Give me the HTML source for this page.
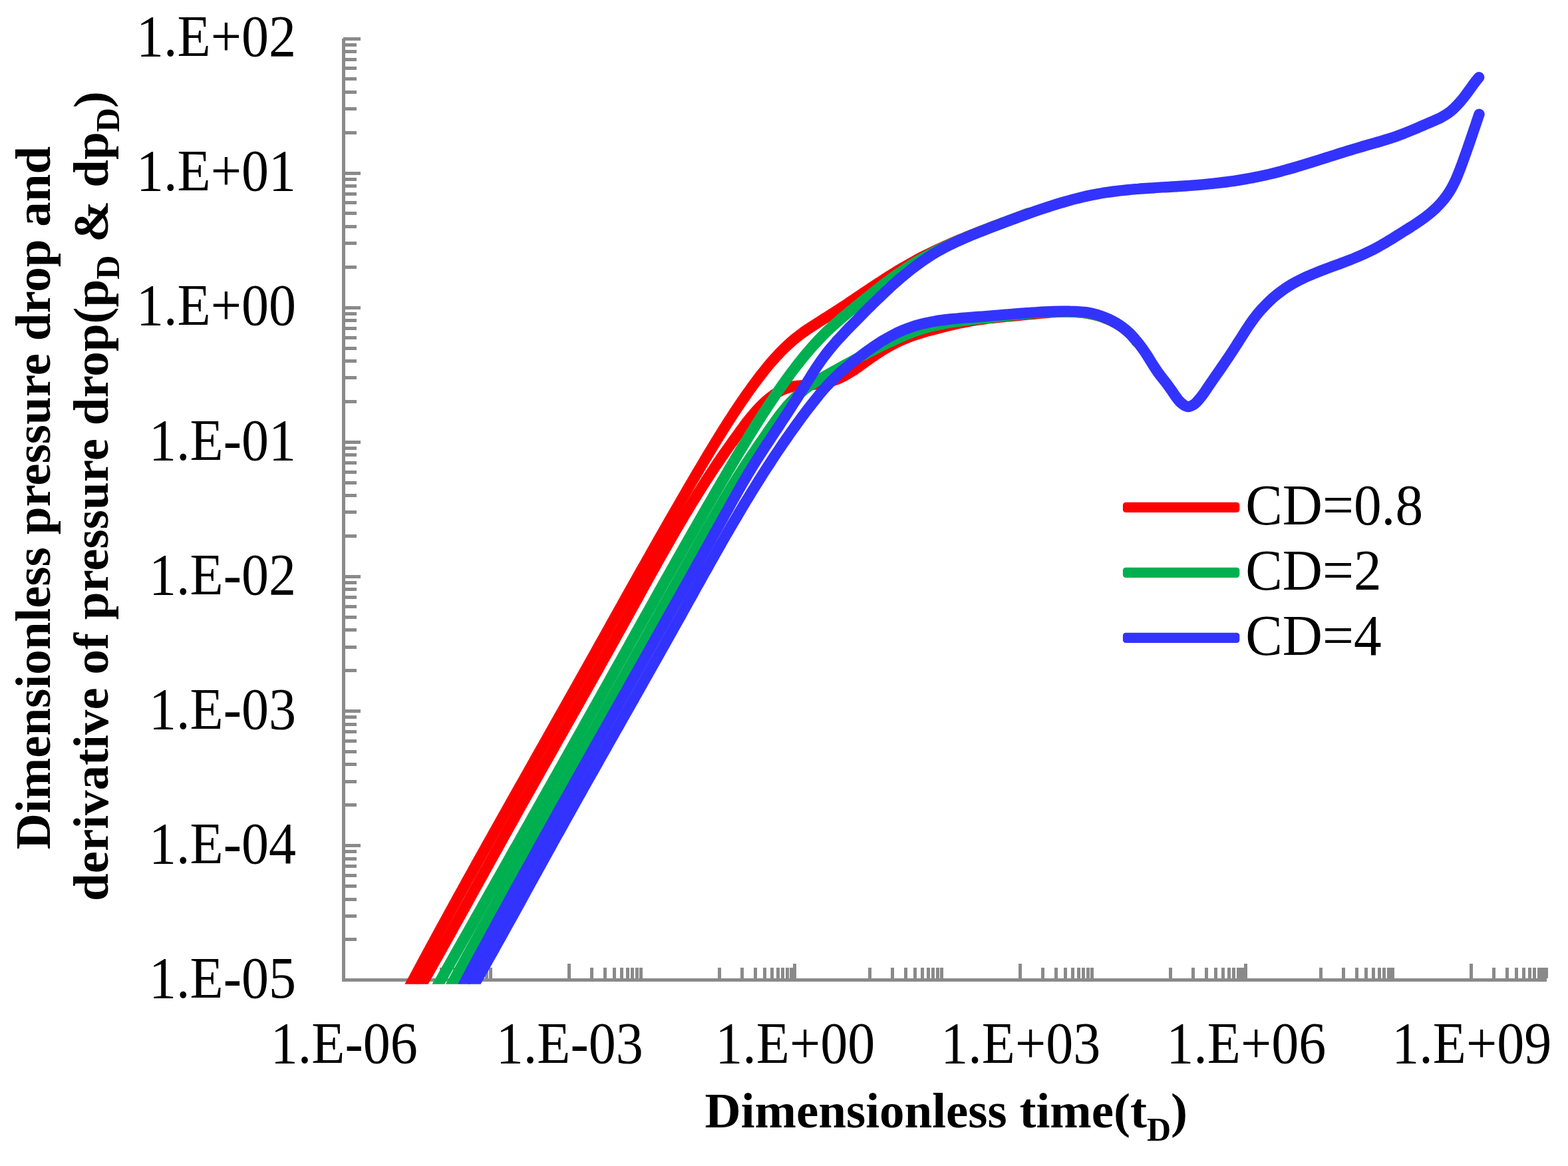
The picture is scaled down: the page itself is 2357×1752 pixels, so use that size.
<!DOCTYPE html>
<html lang="en">
<head>
<meta charset="utf-8">
<title>Dimensionless pressure drop and derivative of pressure drop</title>
<style>
html, body { margin: 0; padding: 0; background: #ffffff; }
body { width: 2357px; height: 1752px; overflow: hidden; }
svg { display: block; }
text { font-family: "Liberation Serif", "Times New Roman", Times, serif; fill: #000; }
.tick { font-size: 83.3px; }
.leg { font-size: 83.3px; }
.ttl { font-size: 75px; font-weight: bold; }
.sub { font-size: 50px; }
.curves path { fill: none; stroke-width: 16.4; stroke-linejoin: round; stroke-linecap: round; }
.axis { shape-rendering: crispEdges; }
.axis rect { fill: #8a8a8a; }
</style>
</head>
<body>
<svg width="2357" height="1752" viewBox="0 0 2357 1752">
<defs><clipPath id="plot"><rect x="516.5" y="0" width="2357" height="1478.7"/></clipPath></defs>
<rect width="2357" height="1752" fill="#ffffff"/>
<g class="axis">
<rect x="514" y="58" width="5" height="1417"/>
<rect x="514" y="1470" width="1811" height="5"/>
<rect x="516" y="1409" width="20" height="5"/>
<rect x="516" y="1374" width="20" height="5"/>
<rect x="516" y="1349" width="20" height="5"/>
<rect x="516" y="1329" width="20" height="5"/>
<rect x="516" y="1313" width="20" height="5"/>
<rect x="516" y="1299" width="20" height="5"/>
<rect x="516" y="1288" width="20" height="5"/>
<rect x="516" y="1277" width="20" height="5"/>
<rect x="516" y="1268" width="26" height="5"/>
<rect x="516" y="1207" width="20" height="5"/>
<rect x="516" y="1172" width="20" height="5"/>
<rect x="516" y="1146" width="20" height="5"/>
<rect x="516" y="1127" width="20" height="5"/>
<rect x="516" y="1111" width="20" height="5"/>
<rect x="516" y="1097" width="20" height="5"/>
<rect x="516" y="1086" width="20" height="5"/>
<rect x="516" y="1075" width="20" height="5"/>
<rect x="516" y="1066" width="26" height="5"/>
<rect x="516" y="1005" width="20" height="5"/>
<rect x="516" y="970" width="20" height="5"/>
<rect x="516" y="944" width="20" height="5"/>
<rect x="516" y="925" width="20" height="5"/>
<rect x="516" y="909" width="20" height="5"/>
<rect x="516" y="895" width="20" height="5"/>
<rect x="516" y="883" width="20" height="5"/>
<rect x="516" y="873" width="20" height="5"/>
<rect x="516" y="864" width="26" height="5"/>
<rect x="516" y="803" width="20" height="5"/>
<rect x="516" y="767" width="20" height="5"/>
<rect x="516" y="742" width="20" height="5"/>
<rect x="516" y="723" width="20" height="5"/>
<rect x="516" y="707" width="20" height="5"/>
<rect x="516" y="693" width="20" height="5"/>
<rect x="516" y="681" width="20" height="5"/>
<rect x="516" y="671" width="20" height="5"/>
<rect x="516" y="662" width="26" height="5"/>
<rect x="516" y="601" width="20" height="5"/>
<rect x="516" y="565" width="20" height="5"/>
<rect x="516" y="540" width="20" height="5"/>
<rect x="516" y="521" width="20" height="5"/>
<rect x="516" y="505" width="20" height="5"/>
<rect x="516" y="491" width="20" height="5"/>
<rect x="516" y="479" width="20" height="5"/>
<rect x="516" y="469" width="20" height="5"/>
<rect x="516" y="460" width="26" height="5"/>
<rect x="516" y="399" width="20" height="5"/>
<rect x="516" y="363" width="20" height="5"/>
<rect x="516" y="338" width="20" height="5"/>
<rect x="516" y="318" width="20" height="5"/>
<rect x="516" y="302" width="20" height="5"/>
<rect x="516" y="289" width="20" height="5"/>
<rect x="516" y="277" width="20" height="5"/>
<rect x="516" y="267" width="20" height="5"/>
<rect x="516" y="258" width="26" height="5"/>
<rect x="516" y="197" width="20" height="5"/>
<rect x="516" y="161" width="20" height="5"/>
<rect x="516" y="136" width="20" height="5"/>
<rect x="516" y="116" width="20" height="5"/>
<rect x="516" y="100" width="20" height="5"/>
<rect x="516" y="87" width="20" height="5"/>
<rect x="516" y="75" width="20" height="5"/>
<rect x="516" y="65" width="20" height="5"/>
<rect x="516" y="56" width="26" height="5"/>
<rect x="853" y="1448" width="5" height="22"/>
<rect x="1192" y="1448" width="5" height="22"/>
<rect x="1531" y="1448" width="5" height="22"/>
<rect x="1870" y="1448" width="5" height="22"/>
<rect x="2209" y="1448" width="5" height="22"/>
<rect x="627" y="1454" width="5" height="16"/>
<rect x="661" y="1454" width="5" height="16"/>
<rect x="681" y="1454" width="5" height="16"/>
<rect x="695" y="1454" width="5" height="16"/>
<rect x="706" y="1454" width="5" height="16"/>
<rect x="715" y="1454" width="5" height="16"/>
<rect x="722" y="1454" width="5" height="16"/>
<rect x="729" y="1454" width="5" height="16"/>
<rect x="735" y="1454" width="5" height="16"/>
<rect x="887" y="1454" width="5" height="16"/>
<rect x="907" y="1454" width="5" height="16"/>
<rect x="921" y="1454" width="5" height="16"/>
<rect x="932" y="1454" width="5" height="16"/>
<rect x="941" y="1454" width="5" height="16"/>
<rect x="948" y="1454" width="5" height="16"/>
<rect x="955" y="1454" width="5" height="16"/>
<rect x="961" y="1454" width="5" height="16"/>
<rect x="1079" y="1454" width="5" height="16"/>
<rect x="1113" y="1454" width="5" height="16"/>
<rect x="1133" y="1454" width="5" height="16"/>
<rect x="1147" y="1454" width="5" height="16"/>
<rect x="1158" y="1454" width="5" height="16"/>
<rect x="1167" y="1454" width="5" height="16"/>
<rect x="1174" y="1454" width="5" height="16"/>
<rect x="1181" y="1454" width="5" height="16"/>
<rect x="1187" y="1454" width="5" height="16"/>
<rect x="1305" y="1454" width="5" height="16"/>
<rect x="1339" y="1454" width="5" height="16"/>
<rect x="1359" y="1454" width="5" height="16"/>
<rect x="1373" y="1454" width="5" height="16"/>
<rect x="1384" y="1454" width="5" height="16"/>
<rect x="1393" y="1454" width="5" height="16"/>
<rect x="1400" y="1454" width="5" height="16"/>
<rect x="1407" y="1454" width="5" height="16"/>
<rect x="1413" y="1454" width="5" height="16"/>
<rect x="1565" y="1454" width="5" height="16"/>
<rect x="1585" y="1454" width="5" height="16"/>
<rect x="1599" y="1454" width="5" height="16"/>
<rect x="1610" y="1454" width="5" height="16"/>
<rect x="1619" y="1454" width="5" height="16"/>
<rect x="1626" y="1454" width="5" height="16"/>
<rect x="1633" y="1454" width="5" height="16"/>
<rect x="1639" y="1454" width="5" height="16"/>
<rect x="1757" y="1454" width="5" height="16"/>
<rect x="1791" y="1454" width="5" height="16"/>
<rect x="1811" y="1454" width="5" height="16"/>
<rect x="1825" y="1454" width="5" height="16"/>
<rect x="1836" y="1454" width="5" height="16"/>
<rect x="1845" y="1454" width="5" height="16"/>
<rect x="1852" y="1454" width="5" height="16"/>
<rect x="1859" y="1454" width="5" height="16"/>
<rect x="1865" y="1454" width="5" height="16"/>
<rect x="1983" y="1454" width="5" height="16"/>
<rect x="2017" y="1454" width="5" height="16"/>
<rect x="2037" y="1454" width="5" height="16"/>
<rect x="2051" y="1454" width="5" height="16"/>
<rect x="2062" y="1454" width="5" height="16"/>
<rect x="2071" y="1454" width="5" height="16"/>
<rect x="2078" y="1454" width="5" height="16"/>
<rect x="2085" y="1454" width="5" height="16"/>
<rect x="2091" y="1454" width="5" height="16"/>
<rect x="2243" y="1454" width="5" height="16"/>
<rect x="2263" y="1454" width="5" height="16"/>
<rect x="2277" y="1454" width="5" height="16"/>
<rect x="2288" y="1454" width="5" height="16"/>
<rect x="2297" y="1454" width="5" height="16"/>
<rect x="2304" y="1454" width="5" height="16"/>
<rect x="2311" y="1454" width="5" height="16"/>
<rect x="2317" y="1454" width="5" height="16"/>
<rect x="2322" y="1454" width="5" height="16"/>
<rect x="1187" y="1454" width="10" height="16"/>
<rect x="1859" y="1454" width="16" height="16"/>
<rect x="2085" y="1454" width="11" height="16"/>
<rect x="2311" y="1454" width="16" height="16"/>
</g>
<g class="curves" clip-path="url(#plot)">
<path d="M606.4,1500.0C608.3,1496.5 610.2,1492.9 612.1,1489.4C613.9,1485.8 615.8,1482.3 617.7,1478.7C619.6,1475.2 621.5,1471.6 623.4,1468.1C625.3,1464.5 627.2,1461.0 629.1,1457.4C631.0,1453.9 632.9,1450.4 634.8,1446.8C636.7,1443.3 638.6,1439.8 640.5,1436.2C642.4,1432.7 644.3,1429.1 646.2,1425.6C648.1,1422.1 650.0,1418.5 652.0,1415.0C653.9,1411.5 655.8,1408.0 657.7,1404.4C659.6,1400.9 661.5,1397.4 663.5,1393.8C665.4,1390.3 667.3,1386.8 669.2,1383.3C671.2,1379.7 673.1,1376.2 675.0,1372.7C677.0,1369.2 678.9,1365.6 680.8,1362.1C682.8,1358.6 684.7,1355.1 686.6,1351.6C688.6,1348.0 690.5,1344.5 692.5,1341.0C694.4,1337.5 696.3,1334.0 698.3,1330.5C700.2,1326.9 702.2,1323.4 704.1,1319.9C706.1,1316.4 708.0,1312.9 710.0,1309.4C711.9,1305.9 713.9,1302.4 715.8,1298.8C717.8,1295.3 719.7,1291.8 721.7,1288.3C723.6,1284.8 725.6,1281.3 727.6,1277.8C729.5,1274.3 731.5,1270.8 733.4,1267.3C735.4,1263.8 737.4,1260.3 739.3,1256.8C741.3,1253.2 743.2,1249.7 745.2,1246.2C747.2,1242.7 749.1,1239.2 751.1,1235.7C753.1,1232.2 755.0,1228.7 757.0,1225.2C759.0,1221.7 760.9,1218.2 762.9,1214.7C764.9,1211.2 766.8,1207.7 768.8,1204.2C770.8,1200.7 772.7,1197.2 774.7,1193.7C776.7,1190.2 778.7,1186.7 780.6,1183.2C782.6,1179.7 784.6,1176.2 786.6,1172.7C788.5,1169.2 790.5,1165.7 792.5,1162.2C794.4,1158.7 796.4,1155.2 798.4,1151.7C800.4,1148.2 802.3,1144.7 804.3,1141.2C806.3,1137.7 808.3,1134.2 810.2,1130.7C812.2,1127.2 814.2,1123.7 816.2,1120.2C818.1,1116.7 820.1,1113.2 822.1,1109.7C824.1,1106.2 826.0,1102.7 828.0,1099.2C830.0,1095.7 831.9,1092.2 833.9,1088.7C835.9,1085.2 837.9,1081.7 839.8,1078.2C841.8,1074.7 843.8,1071.2 845.8,1067.7C847.7,1064.2 849.7,1060.7 851.7,1057.2C853.6,1053.7 855.6,1050.2 857.6,1046.7C859.6,1043.2 861.5,1039.7 863.5,1036.2C865.5,1032.7 867.4,1029.2 869.4,1025.7C871.4,1022.2 873.3,1018.7 875.3,1015.2C877.3,1011.7 879.2,1008.2 881.2,1004.7C883.2,1001.2 885.1,997.7 887.1,994.2C889.1,990.7 891.0,987.2 893.0,983.7C895.0,980.2 896.9,976.7 898.9,973.1C900.8,969.6 902.8,966.1 904.8,962.6C906.7,959.1 908.7,955.6 910.6,952.1C912.6,948.6 914.6,945.1 916.5,941.6C918.5,938.1 920.4,934.6 922.4,931.1C924.4,927.6 926.3,924.1 928.3,920.5C930.2,917.0 932.2,913.5 934.2,910.0C936.1,906.5 938.1,903.0 940.0,899.5C942.0,896.0 944.0,892.5 945.9,889.0C947.9,885.5 949.9,882.0 951.8,878.5C953.8,875.0 955.8,871.5 957.7,868.0C959.7,864.5 961.7,861.0 963.6,857.5C965.6,854.0 967.6,850.5 969.6,847.0C971.5,843.5 973.5,840.0 975.5,836.5C977.5,833.0 979.4,829.5 981.4,826.0C983.4,822.5 985.4,819.0 987.4,815.5C989.3,812.0 991.3,808.5 993.3,805.0C995.3,801.5 997.3,798.1 999.3,794.6C1001.3,791.1 1003.3,787.6 1005.3,784.1C1007.3,780.6 1009.3,777.1 1011.3,773.7C1013.3,770.2 1015.3,766.7 1017.3,763.2C1019.3,759.7 1021.3,756.3 1023.3,752.8C1025.3,749.3 1027.4,745.8 1029.4,742.4C1031.4,738.9 1033.4,735.4 1035.4,731.9C1037.5,728.5 1039.5,725.0 1041.5,721.5C1043.6,718.1 1045.6,714.6 1047.6,711.1C1049.7,707.7 1051.7,704.2 1053.8,700.8C1055.8,697.3 1057.9,693.9 1059.9,690.4C1062.0,687.0 1064.0,683.5 1066.1,680.1C1068.2,676.6 1070.3,673.2 1072.3,669.7C1074.4,666.3 1076.5,662.9 1078.6,659.5C1080.7,656.0 1082.8,652.6 1085.0,649.2C1087.1,645.8 1089.2,642.4 1091.4,639.0C1093.5,635.6 1095.7,632.2 1097.9,628.9C1100.1,625.5 1102.2,622.1 1104.5,618.8C1106.7,615.4 1108.9,612.1 1111.2,608.7C1113.4,605.4 1115.7,602.1 1118.0,598.8C1120.2,595.5 1122.5,592.2 1124.9,588.9C1127.2,585.7 1129.5,582.4 1131.9,579.1C1134.3,575.9 1136.7,572.7 1139.1,569.5C1141.5,566.3 1144.0,563.1 1146.5,559.9C1148.9,556.8 1151.5,553.6 1154.0,550.5C1156.6,547.5 1159.2,544.4 1161.8,541.4C1164.5,538.4 1167.2,535.4 1170.0,532.5C1172.7,529.5 1175.5,526.7 1178.4,523.9C1181.3,521.0 1184.2,518.3 1187.2,515.6C1190.2,512.9 1193.2,510.3 1196.4,507.8C1199.5,505.3 1202.7,502.9 1205.9,500.5C1209.2,498.1 1212.5,495.9 1215.8,493.6C1219.2,491.4 1222.6,489.2 1225.9,487.1C1229.3,484.9 1232.7,482.8 1236.1,480.6C1239.5,478.5 1243.0,476.4 1246.4,474.2C1249.7,472.1 1253.1,469.9 1256.5,467.7C1259.9,465.5 1263.2,463.3 1266.6,461.1C1269.9,458.9 1273.3,456.7 1276.6,454.4C1280.0,452.2 1283.3,450.0 1286.6,447.7C1290.0,445.5 1293.3,443.3 1296.6,441.0C1300.0,438.8 1303.3,436.6 1306.7,434.3C1310.0,432.1 1313.3,429.9 1316.7,427.7C1320.1,425.5 1323.4,423.3 1326.8,421.1C1330.2,418.9 1333.6,416.7 1337.0,414.6C1340.4,412.5 1343.8,410.3 1347.2,408.2C1350.6,406.1 1354.1,404.1 1357.5,402.0C1361.0,400.0 1364.5,398.0 1368.0,396.0C1371.5,394.1 1375.0,392.1 1378.5,390.2C1382.1,388.3 1385.6,386.5 1389.2,384.7C1392.8,382.8 1396.4,381.0 1400.0,379.3C1403.6,377.5 1407.3,375.8 1410.9,374.1C1414.5,372.4 1418.2,370.8 1421.9,369.1C1425.5,367.5 1429.2,365.9 1432.9,364.3C1436.6,362.7 1440.3,361.1 1444.0,359.6C1447.7,358.1 1451.4,356.5 1455.2,355.0C1458.9,353.5 1462.6,352.0 1466.4,350.6C1470.1,349.1 1473.8,347.6 1477.6,346.2C1481.3,344.7 1485.1,343.3 1488.8,341.9C1492.6,340.5 1496.4,339.0 1500.1,337.6C1503.9,336.2 1507.6,334.8 1511.4,333.4C1515.2,332.0 1518.9,330.6 1522.7,329.2C1526.5,327.8 1530.2,326.4 1534.0,325.0C1537.8,323.6 1541.5,322.2 1545.3,320.8" stroke="#ff0000"/>
<path d="M622.1,1500.0C624.1,1496.5 626.1,1493.0 628.1,1489.5C630.1,1486.0 632.1,1482.5 634.1,1479.0C636.1,1475.5 638.1,1472.0 640.1,1468.5C642.1,1465.0 644.1,1461.5 646.0,1458.0C648.0,1454.5 650.0,1451.0 652.0,1447.5C653.9,1444.0 655.9,1440.4 657.9,1436.9C659.9,1433.4 661.8,1429.9 663.8,1426.4C665.8,1422.9 667.7,1419.4 669.7,1415.8C671.7,1412.3 673.6,1408.8 675.6,1405.3C677.5,1401.8 679.5,1398.2 681.4,1394.7C683.4,1391.2 685.4,1387.7 687.3,1384.2C689.3,1380.6 691.2,1377.1 693.2,1373.6C695.1,1370.1 697.1,1366.5 699.0,1363.0C701.0,1359.5 702.9,1356.0 704.9,1352.5C706.8,1348.9 708.8,1345.4 710.7,1341.9C712.7,1338.3 714.6,1334.8 716.6,1331.3C718.5,1327.8 720.5,1324.2 722.4,1320.7C724.4,1317.2 726.3,1313.7 728.3,1310.1C730.2,1306.6 732.2,1303.1 734.1,1299.6C736.1,1296.0 738.0,1292.5 740.0,1289.0C741.9,1285.5 743.9,1282.0 745.8,1278.4C747.8,1274.9 749.7,1271.4 751.7,1267.9C753.6,1264.3 755.6,1260.8 757.5,1257.3C759.5,1253.8 761.5,1250.3 763.4,1246.7C765.4,1243.2 767.3,1239.7 769.3,1236.2C771.3,1232.7 773.2,1229.2 775.2,1225.6C777.2,1222.1 779.1,1218.6 781.1,1215.1C783.1,1211.6 785.0,1208.1 787.0,1204.6C789.0,1201.0 790.9,1197.5 792.9,1194.0C794.9,1190.5 796.9,1187.0 798.8,1183.5C800.8,1180.0 802.8,1176.5 804.8,1173.0C806.7,1169.4 808.7,1165.9 810.7,1162.4C812.7,1158.9 814.7,1155.4 816.6,1151.9C818.6,1148.4 820.6,1144.9 822.6,1141.4C824.6,1137.9 826.5,1134.4 828.5,1130.9C830.5,1127.3 832.5,1123.8 834.5,1120.3C836.4,1116.8 838.4,1113.3 840.4,1109.8C842.4,1106.3 844.4,1102.8 846.3,1099.3C848.3,1095.8 850.3,1092.3 852.3,1088.8C854.3,1085.3 856.2,1081.8 858.2,1078.3C860.2,1074.7 862.2,1071.2 864.2,1067.7C866.2,1064.2 868.1,1060.7 870.1,1057.2C872.1,1053.7 874.1,1050.2 876.0,1046.7C878.0,1043.2 880.0,1039.7 882.0,1036.2C884.0,1032.6 885.9,1029.1 887.9,1025.6C889.9,1022.1 891.9,1018.6 893.8,1015.1C895.8,1011.6 897.8,1008.1 899.8,1004.6C901.7,1001.0 903.7,997.5 905.7,994.0C907.6,990.5 909.6,987.0 911.6,983.5C913.5,980.0 915.5,976.5 917.5,972.9C919.4,969.4 921.4,965.9 923.4,962.4C925.3,958.9 927.3,955.3 929.2,951.8C931.2,948.3 933.2,944.8 935.1,941.3C937.1,937.7 939.0,934.2 941.0,930.7C942.9,927.2 944.9,923.7 946.8,920.1C948.8,916.6 950.7,913.1 952.7,909.6C954.6,906.0 956.6,902.5 958.5,899.0C960.5,895.4 962.4,891.9 964.3,888.4C966.3,884.9 968.2,881.3 970.2,877.8C972.1,874.3 974.1,870.8 976.0,867.2C978.0,863.7 980.0,860.2 981.9,856.7C983.9,853.2 985.8,849.7 987.8,846.1C989.8,842.6 991.7,839.1 993.7,835.6C995.7,832.1 997.7,828.6 999.7,825.1C1001.7,821.6 1003.7,818.1 1005.7,814.6C1007.7,811.1 1009.7,807.6 1011.7,804.1C1013.7,800.6 1015.7,797.1 1017.7,793.7C1019.8,790.2 1021.8,786.7 1023.9,783.2C1025.9,779.8 1028.0,776.3 1030.0,772.8C1032.1,769.4 1034.2,765.9 1036.2,762.5C1038.3,759.0 1040.4,755.6 1042.5,752.2C1044.6,748.7 1046.8,745.3 1048.9,741.9C1051.0,738.5 1053.2,735.1 1055.3,731.7C1057.5,728.3 1059.7,724.9 1061.8,721.5C1064.0,718.1 1066.2,714.7 1068.4,711.4C1070.6,708.0 1072.9,704.6 1075.1,701.3C1077.3,697.9 1079.6,694.6 1081.9,691.3C1084.1,687.9 1086.4,684.6 1088.7,681.3C1091.0,678.0 1093.3,674.7 1095.6,671.4C1098.0,668.1 1100.3,664.8 1102.6,661.6C1105.0,658.3 1107.3,655.0 1109.7,651.8C1112.1,648.5 1114.5,645.3 1116.9,642.0C1119.3,638.8 1121.7,635.6 1124.2,632.4C1126.7,629.2 1129.2,626.1 1131.8,623.0C1134.4,619.9 1137.0,616.9 1139.8,614.0C1142.5,611.0 1145.4,608.2 1148.3,605.4C1151.3,602.7 1154.3,600.0 1157.5,597.6C1160.7,595.1 1164.0,592.7 1167.4,590.6C1170.8,588.5 1174.4,586.6 1178.1,585.0C1181.8,583.4 1185.6,582.1 1189.5,581.2C1193.4,580.3 1197.5,580.0 1201.5,579.6C1205.5,579.2 1209.5,579.0 1213.5,578.6C1217.5,578.3 1221.6,577.9 1225.6,577.4C1229.6,576.9 1233.6,576.4 1237.5,575.7C1241.5,574.9 1245.4,574.1 1249.3,572.9C1253.1,571.8 1256.9,570.4 1260.6,568.9C1264.3,567.3 1267.9,565.4 1271.5,563.5C1275.0,561.5 1278.4,559.4 1281.8,557.2C1285.1,555.0 1288.4,552.7 1291.7,550.4C1295.0,548.0 1298.3,545.6 1301.6,543.3C1304.8,541.0 1308.1,538.6 1311.4,536.3C1314.7,534.1 1318.1,531.8 1321.5,529.6C1324.9,527.5 1328.3,525.4 1331.8,523.3C1335.3,521.3 1338.8,519.3 1342.3,517.5C1345.9,515.6 1349.5,513.8 1353.2,512.1C1356.8,510.4 1360.5,508.9 1364.3,507.4C1368.0,505.9 1371.8,504.6 1375.7,503.3C1379.5,502.0 1383.3,500.8 1387.2,499.7C1391.0,498.5 1394.9,497.4 1398.8,496.4C1402.7,495.3 1406.6,494.3 1410.5,493.3C1414.4,492.2 1418.3,491.2 1422.2,490.3C1426.1,489.3 1430.0,488.4 1434.0,487.5C1437.9,486.6 1441.8,485.8 1445.8,485.0C1449.7,484.2 1453.7,483.4 1457.6,482.7C1461.6,482.0 1465.6,481.3 1469.6,480.7C1473.5,480.1 1477.5,479.5 1481.5,479.0C1485.5,478.4 1489.5,478.0 1493.5,477.5C1497.5,477.1 1501.5,476.7 1505.5,476.3C1509.5,475.9 1513.6,475.5 1517.6,475.1C1521.6,474.7 1525.6,474.4 1529.6,474.0C1533.6,473.7 1537.6,473.3 1541.6,472.9C1545.6,472.6 1549.6,472.2 1553.7,471.8C1557.7,471.4 1561.7,471.0 1565.7,470.6C1569.7,470.2 1573.7,469.8 1577.7,469.5C1581.7,469.2 1585.8,469.0 1589.8,468.8C1593.8,468.6 1597.8,468.4 1601.9,468.4C1605.9,468.4 1609.9,468.4 1613.9,468.6C1618.0,468.8 1622.0,469.1 1626.0,469.6C1630.0,470.0 1634.0,470.6 1637.9,471.4C1641.9,472.2 1645.8,473.1 1649.7,474.2C1653.6,475.3 1657.4,476.5 1661.2,478.0C1664.9,479.4 1668.6,481.0 1672.2,482.8C1675.8,484.6 1679.3,486.6 1682.7,488.8C1686.1,490.9 1689.4,493.3 1692.5,495.9C1695.6,498.4 1698.6,501.2 1701.3,504.1C1704.0,507.1 1706.4,510.4 1708.9,513.5" stroke="#ff0000"/>
<path d="M647.0,1500.0C648.9,1496.5 650.9,1493.0 652.9,1489.5C654.9,1486.0 656.8,1482.5 658.8,1479.0C660.8,1475.5 662.8,1472.0 664.8,1468.5C666.7,1465.0 668.7,1461.4 670.7,1457.9C672.7,1454.4 674.7,1450.9 676.6,1447.4C678.6,1443.9 680.6,1440.4 682.6,1436.9C684.5,1433.4 686.5,1429.9 688.5,1426.4C690.5,1422.9 692.5,1419.4 694.4,1415.9C696.4,1412.4 698.4,1408.9 700.4,1405.4C702.4,1401.9 704.3,1398.4 706.3,1394.9C708.3,1391.4 710.3,1387.9 712.3,1384.4C714.2,1380.8 716.2,1377.3 718.2,1373.8C720.2,1370.3 722.2,1366.8 724.1,1363.3C726.1,1359.8 728.1,1356.3 730.1,1352.8C732.1,1349.3 734.0,1345.8 736.0,1342.3C738.0,1338.8 740.0,1335.3 742.0,1331.8C743.9,1328.3 745.9,1324.8 747.9,1321.3C749.9,1317.8 751.9,1314.3 753.8,1310.8C755.8,1307.3 757.8,1303.8 759.8,1300.2C761.7,1296.7 763.7,1293.2 765.7,1289.7C767.7,1286.2 769.7,1282.7 771.6,1279.2C773.6,1275.7 775.6,1272.2 777.6,1268.7C779.6,1265.2 781.5,1261.7 783.5,1258.2C785.5,1254.7 787.5,1251.2 789.4,1247.7C791.4,1244.2 793.4,1240.7 795.4,1237.2C797.4,1233.7 799.3,1230.1 801.3,1226.6C803.3,1223.1 805.3,1219.6 807.2,1216.1C809.2,1212.6 811.2,1209.1 813.2,1205.6C815.1,1202.1 817.1,1198.6 819.1,1195.1C821.1,1191.6 823.0,1188.1 825.0,1184.6C827.0,1181.1 829.0,1177.6 830.9,1174.0C832.9,1170.5 834.9,1167.0 836.9,1163.5C838.8,1160.0 840.8,1156.5 842.8,1153.0C844.8,1149.5 846.7,1146.0 848.7,1142.5C850.7,1139.0 852.7,1135.5 854.6,1132.0C856.6,1128.4 858.6,1124.9 860.6,1121.4C862.5,1117.9 864.5,1114.4 866.5,1110.9C868.4,1107.4 870.4,1103.9 872.4,1100.4C874.4,1096.9 876.3,1093.4 878.3,1089.8C880.3,1086.3 882.2,1082.8 884.2,1079.3C886.2,1075.8 888.1,1072.3 890.1,1068.8C892.1,1065.3 894.0,1061.8 896.0,1058.3C898.0,1054.7 899.9,1051.2 901.9,1047.7C903.9,1044.2 905.8,1040.7 907.8,1037.2C909.8,1033.7 911.7,1030.2 913.7,1026.7C915.7,1023.1 917.6,1019.6 919.6,1016.1C921.6,1012.6 923.5,1009.1 925.5,1005.6C927.5,1002.1 929.4,998.5 931.4,995.0C933.4,991.5 935.3,988.0 937.3,984.5C939.2,981.0 941.2,977.5 943.2,973.9C945.1,970.4 947.1,966.9 949.0,963.4C951.0,959.9 953.0,956.4 954.9,952.9C956.9,949.3 958.9,945.8 960.8,942.3C962.8,938.8 964.7,935.3 966.7,931.8C968.7,928.3 970.6,924.8 972.6,921.2C974.6,917.7 976.5,914.2 978.5,910.7C980.5,907.2 982.4,903.7 984.4,900.2C986.3,896.7 988.3,893.1 990.3,889.6C992.3,886.1 994.2,882.6 996.2,879.1C998.2,875.6 1000.1,872.1 1002.1,868.6C1004.1,865.1 1006.1,861.6 1008.0,858.1C1010.0,854.5 1012.0,851.0 1014.0,847.5C1015.9,844.0 1017.9,840.5 1019.9,837.0C1021.9,833.5 1023.9,830.0 1025.9,826.5C1027.8,823.0 1029.8,819.5 1031.8,816.0C1033.8,812.5 1035.8,809.0 1037.8,805.5C1039.8,802.0 1041.8,798.5 1043.8,795.0C1045.8,791.5 1047.8,788.1 1049.8,784.6C1051.8,781.1 1053.8,777.6 1055.8,774.1C1057.8,770.6 1059.8,767.1 1061.8,763.6C1063.8,760.1 1065.9,756.7 1067.9,753.2C1069.9,749.7 1071.9,746.2 1073.9,742.7C1076.0,739.3 1078.0,735.8 1080.0,732.3C1082.0,728.8 1084.1,725.4 1086.1,721.9C1088.2,718.4 1090.2,714.9 1092.2,711.5C1094.3,708.0 1096.3,704.5 1098.4,701.1C1100.4,697.6 1102.5,694.2 1104.5,690.7C1106.6,687.2 1108.7,683.8 1110.7,680.3C1112.8,676.9 1114.9,673.4 1117.0,670.0C1119.0,666.5 1121.1,663.1 1123.2,659.7C1125.3,656.2 1127.4,652.8 1129.5,649.4C1131.7,646.0 1133.8,642.5 1135.9,639.1C1138.1,635.7 1140.2,632.3 1142.4,628.9C1144.5,625.5 1146.7,622.1 1148.9,618.8C1151.1,615.4 1153.3,612.0 1155.5,608.7C1157.7,605.3 1160.0,602.0 1162.2,598.6C1164.5,595.3 1166.7,592.0 1169.0,588.7C1171.3,585.3 1173.6,582.0 1175.9,578.7C1178.3,575.5 1180.6,572.2 1183.0,568.9C1185.3,565.7 1187.7,562.4 1190.1,559.2C1192.5,556.0 1195.0,552.8 1197.4,549.6C1199.9,546.4 1202.4,543.2 1204.9,540.1C1207.4,537.0 1210.0,533.9 1212.6,530.8C1215.2,527.7 1217.8,524.7 1220.5,521.6C1223.1,518.6 1225.8,515.6 1228.6,512.7C1231.3,509.8 1234.1,506.9 1236.9,504.0C1239.8,501.1 1242.7,498.3 1245.6,495.6C1248.5,492.8 1251.5,490.1 1254.5,487.4C1257.5,484.7 1260.5,482.1 1263.6,479.4C1266.6,476.8 1269.7,474.3 1272.8,471.7C1275.9,469.1 1279.0,466.6 1282.2,464.0C1285.3,461.5 1288.4,459.0 1291.5,456.4C1294.7,453.9 1297.8,451.4 1300.9,448.8C1304.1,446.3 1307.2,443.8 1310.3,441.3C1313.5,438.8 1316.6,436.3 1319.8,433.8C1323.0,431.3 1326.2,428.8 1329.4,426.4C1332.6,424.0 1335.8,421.6 1339.0,419.2C1342.3,416.8 1345.5,414.4 1348.8,412.1C1352.1,409.8 1355.4,407.5 1358.8,405.3C1362.1,403.1 1365.5,400.9 1368.9,398.7C1372.3,396.6 1375.7,394.5 1379.2,392.4C1382.7,390.4 1386.2,388.4 1389.7,386.4C1393.2,384.5 1396.8,382.5 1400.3,380.7C1403.9,378.8 1407.5,377.0 1411.1,375.2C1414.7,373.4 1418.3,371.7 1422.0,370.0C1425.6,368.2 1429.3,366.6 1432.9,364.9C1436.6,363.3 1440.3,361.7 1444.0,360.1C1447.7,358.5 1451.4,356.9 1455.1,355.4C1458.8,353.8 1462.6,352.3 1466.3,350.8C1470.0,349.3 1473.8,347.9 1477.5,346.4C1481.3,344.9 1485.0,343.5 1488.8,342.0C1492.5,340.6 1496.3,339.2 1500.1,337.8C1503.8,336.3 1507.6,334.9 1511.4,333.5C1515.1,332.1 1518.9,330.7 1522.7,329.3C1526.5,327.9 1530.2,326.5 1534.0,325.1C1537.8,323.6 1541.5,322.2 1545.3,320.8" stroke="#00b050"/>
<path d="M667.6,1500.0C669.5,1496.5 671.4,1492.9 673.3,1489.4C675.3,1485.9 677.2,1482.3 679.1,1478.8C681.0,1475.3 682.9,1471.8 684.9,1468.2C686.8,1464.7 688.7,1461.2 690.6,1457.6C692.6,1454.1 694.5,1450.6 696.4,1447.1C698.3,1443.5 700.3,1440.0 702.2,1436.5C704.1,1433.0 706.1,1429.5 708.0,1425.9C710.0,1422.4 711.9,1418.9 713.8,1415.4C715.8,1411.9 717.7,1408.3 719.7,1404.8C721.6,1401.3 723.6,1397.8 725.5,1394.3C727.4,1390.8 729.4,1387.2 731.3,1383.7C733.3,1380.2 735.2,1376.7 737.2,1373.2C739.1,1369.7 741.1,1366.2 743.1,1362.7C745.0,1359.2 747.0,1355.6 748.9,1352.1C750.9,1348.6 752.8,1345.1 754.8,1341.6C756.8,1338.1 758.7,1334.6 760.7,1331.1C762.6,1327.6 764.6,1324.1 766.6,1320.6C768.5,1317.1 770.5,1313.6 772.5,1310.1C774.4,1306.5 776.4,1303.0 778.4,1299.5C780.3,1296.0 782.3,1292.5 784.3,1289.0C786.2,1285.5 788.2,1282.0 790.2,1278.5C792.2,1275.0 794.1,1271.5 796.1,1268.0C798.1,1264.5 800.0,1261.0 802.0,1257.5C804.0,1254.0 806.0,1250.5 807.9,1247.0C809.9,1243.5 811.9,1240.0 813.9,1236.5C815.8,1233.0 817.8,1229.5 819.8,1226.0C821.8,1222.5 823.8,1219.0 825.7,1215.5C827.7,1212.0 829.7,1208.5 831.7,1205.0C833.6,1201.5 835.6,1198.0 837.6,1194.5C839.6,1191.1 841.6,1187.6 843.5,1184.1C845.5,1180.6 847.5,1177.1 849.5,1173.6C851.5,1170.1 853.4,1166.6 855.4,1163.1C857.4,1159.6 859.4,1156.1 861.3,1152.6C863.3,1149.1 865.3,1145.6 867.3,1142.1C869.3,1138.6 871.2,1135.1 873.2,1131.6C875.2,1128.1 877.2,1124.6 879.2,1121.1C881.1,1117.6 883.1,1114.1 885.1,1110.6C887.1,1107.1 889.0,1103.6 891.0,1100.1C893.0,1096.6 895.0,1093.1 896.9,1089.6C898.9,1086.1 900.9,1082.6 902.9,1079.1C904.8,1075.6 906.8,1072.1 908.8,1068.6C910.8,1065.1 912.7,1061.6 914.7,1058.1C916.7,1054.6 918.7,1051.1 920.6,1047.6C922.6,1044.1 924.6,1040.6 926.5,1037.1C928.5,1033.6 930.5,1030.1 932.5,1026.6C934.4,1023.1 936.4,1019.6 938.4,1016.1C940.3,1012.6 942.3,1009.1 944.2,1005.6C946.2,1002.1 948.2,998.6 950.1,995.1C952.1,991.6 954.1,988.1 956.0,984.5C958.0,981.0 959.9,977.5 961.9,974.0C963.9,970.5 965.8,967.0 967.8,963.5C969.7,960.0 971.7,956.5 973.7,953.0C975.6,949.5 977.6,946.0 979.5,942.4C981.5,938.9 983.4,935.4 985.4,931.9C987.4,928.4 989.3,924.9 991.3,921.4C993.2,917.9 995.2,914.4 997.2,910.9C999.1,907.4 1001.1,903.9 1003.0,900.4C1005.0,896.8 1007.0,893.3 1008.9,889.8C1010.9,886.3 1012.9,882.8 1014.8,879.3C1016.8,875.8 1018.8,872.3 1020.7,868.8C1022.7,865.3 1024.7,861.8 1026.7,858.3C1028.6,854.8 1030.6,851.3 1032.6,847.8C1034.6,844.3 1036.5,840.8 1038.5,837.3C1040.5,833.8 1042.5,830.3 1044.5,826.8C1046.5,823.3 1048.4,819.9 1050.4,816.4C1052.4,812.9 1054.4,809.4 1056.4,805.9C1058.4,802.4 1060.4,798.9 1062.4,795.4C1064.4,792.0 1066.4,788.5 1068.4,785.0C1070.4,781.5 1072.5,778.0 1074.5,774.6C1076.5,771.1 1078.5,767.6 1080.5,764.1C1082.6,760.7 1084.6,757.2 1086.6,753.7C1088.7,750.3 1090.7,746.8 1092.8,743.4C1094.8,739.9 1096.9,736.5 1099.0,733.0C1101.1,729.6 1103.2,726.2 1105.3,722.8C1107.4,719.3 1109.5,715.9 1111.7,712.5C1113.8,709.1 1116.0,705.7 1118.1,702.4C1120.3,699.0 1122.5,695.6 1124.7,692.3C1127.0,688.9 1129.2,685.6 1131.5,682.3C1133.7,678.9 1136.0,675.6 1138.2,672.3C1140.5,669.0 1142.8,665.7 1145.0,662.4C1147.3,659.0 1149.6,655.7 1151.9,652.4C1154.1,649.1 1156.4,645.8 1158.7,642.5C1161.0,639.2 1163.3,635.9 1165.6,632.6C1167.9,629.3 1170.3,626.1 1172.7,622.9C1175.2,619.7 1177.7,616.5 1180.3,613.5C1182.8,610.4 1185.5,607.4 1188.3,604.5C1191.1,601.6 1193.9,598.7 1196.8,596.0C1199.8,593.3 1202.8,590.6 1205.9,588.1C1209.0,585.5 1212.2,583.1 1215.5,580.7C1218.7,578.4 1222.1,576.2 1225.5,574.0C1228.8,571.8 1232.3,569.7 1235.7,567.7C1239.2,565.6 1242.7,563.6 1246.2,561.7C1249.7,559.7 1253.2,557.8 1256.7,555.8C1260.2,553.9 1263.8,551.9 1267.3,550.0C1270.8,548.1 1274.3,546.1 1277.9,544.2C1281.4,542.3 1285.0,540.4 1288.5,538.5C1292.1,536.7 1295.6,534.8 1299.2,532.9C1302.7,531.1 1306.3,529.2 1309.9,527.4C1313.5,525.6 1317.1,523.8 1320.7,522.0C1324.3,520.2 1327.9,518.4 1331.5,516.7C1335.1,515.0 1338.7,513.2 1342.4,511.6C1346.1,509.9 1349.7,508.3 1353.4,506.7C1357.1,505.1 1360.8,503.5 1364.5,502.1C1368.3,500.6 1372.0,499.1 1375.8,497.8C1379.6,496.4 1383.4,495.2 1387.3,494.0C1391.1,492.8 1394.9,491.7 1398.8,490.6C1402.7,489.6 1406.6,488.7 1410.6,487.9C1414.5,487.0 1418.4,486.3 1422.4,485.6C1426.4,484.9 1430.3,484.3 1434.3,483.7C1438.3,483.1 1442.3,482.6 1446.3,482.1C1450.2,481.6 1454.2,481.1 1458.2,480.6C1462.2,480.2 1466.2,479.7 1470.2,479.3C1474.2,478.8 1478.2,478.4 1482.2,477.9C1486.2,477.4 1490.2,477.0 1494.1,476.5C1498.1,476.0 1502.1,475.6 1506.1,475.1C1510.1,474.6 1514.1,474.2 1518.1,473.8C1522.1,473.3 1526.1,472.9 1530.1,472.5C1534.1,472.1 1538.1,471.7 1542.1,471.3C1546.1,471.0 1550.1,470.6 1554.1,470.3C1558.1,470.0 1562.1,469.7 1566.1,469.5C1570.1,469.2 1574.1,469.0 1578.2,468.9C1582.2,468.7 1586.2,468.6 1590.2,468.5C1594.2,468.5 1598.2,468.4 1602.3,468.5C1606.3,468.5 1610.3,468.6 1614.3,468.8C1618.3,469.0 1622.3,469.2 1626.3,469.7C1630.3,470.1 1634.3,470.6 1638.3,471.4C1642.2,472.1 1646.1,473.0 1650.0,474.0C1653.9,475.1 1657.7,476.3 1661.5,477.8C1665.2,479.2 1668.9,480.8 1672.5,482.6C1676.1,484.4 1679.6,486.4 1682.9,488.6C1686.3,490.8 1689.5,493.2 1692.6,495.8C1695.7,498.4 1698.6,501.2 1701.3,504.1C1704.0,507.1 1706.4,510.4 1708.9,513.5" stroke="#00b050"/>
<path d="M686.1,1500.0C687.9,1496.5 689.8,1492.9 691.7,1489.4C693.6,1485.8 695.5,1482.3 697.4,1478.7C699.3,1475.2 701.1,1471.6 703.0,1468.1C704.9,1464.5 706.8,1461.0 708.7,1457.4C710.6,1453.9 712.5,1450.4 714.4,1446.8C716.3,1443.3 718.2,1439.7 720.1,1436.2C722.0,1432.7 723.9,1429.1 725.9,1425.6C727.8,1422.1 729.7,1418.5 731.6,1415.0C733.5,1411.5 735.4,1407.9 737.3,1404.4C739.2,1400.9 741.2,1397.3 743.1,1393.8C745.0,1390.3 746.9,1386.7 748.8,1383.2C750.8,1379.7 752.7,1376.2 754.6,1372.6C756.5,1369.1 758.5,1365.6 760.4,1362.1C762.3,1358.5 764.3,1355.0 766.2,1351.5C768.1,1348.0 770.0,1344.4 772.0,1340.9C773.9,1337.4 775.8,1333.9 777.8,1330.4C779.7,1326.8 781.7,1323.3 783.6,1319.8C785.5,1316.3 787.5,1312.8 789.4,1309.2C791.4,1305.7 793.3,1302.2 795.3,1298.7C797.2,1295.2 799.1,1291.7 801.1,1288.1C803.0,1284.6 805.0,1281.1 806.9,1277.6C808.9,1274.1 810.8,1270.6 812.8,1267.1C814.7,1263.5 816.7,1260.0 818.6,1256.5C820.6,1253.0 822.5,1249.5 824.5,1246.0C826.5,1242.5 828.4,1239.0 830.4,1235.5C832.3,1232.0 834.3,1228.4 836.2,1224.9C838.2,1221.4 840.2,1217.9 842.1,1214.4C844.1,1210.9 846.0,1207.4 848.0,1203.9C850.0,1200.4 851.9,1196.9 853.9,1193.4C855.9,1189.9 857.8,1186.4 859.8,1182.9C861.7,1179.4 863.7,1175.8 865.7,1172.3C867.6,1168.8 869.6,1165.3 871.6,1161.8C873.5,1158.3 875.5,1154.8 877.5,1151.3C879.4,1147.8 881.4,1144.3 883.4,1140.8C885.4,1137.3 887.3,1133.8 889.3,1130.3C891.3,1126.8 893.2,1123.3 895.2,1119.8C897.2,1116.3 899.1,1112.8 901.1,1109.3C903.1,1105.8 905.1,1102.3 907.0,1098.8C909.0,1095.3 911.0,1091.8 912.9,1088.3C914.9,1084.8 916.9,1081.3 918.9,1077.8C920.8,1074.3 922.8,1070.8 924.8,1067.3C926.8,1063.8 928.7,1060.3 930.7,1056.8C932.7,1053.3 934.6,1049.8 936.6,1046.3C938.6,1042.8 940.6,1039.3 942.5,1035.8C944.5,1032.3 946.5,1028.8 948.5,1025.3C950.4,1021.8 952.4,1018.3 954.4,1014.8C956.4,1011.3 958.3,1007.8 960.3,1004.3C962.3,1000.8 964.2,997.3 966.2,993.8C968.2,990.3 970.2,986.8 972.1,983.3C974.1,979.8 976.1,976.3 978.0,972.8C980.0,969.3 982.0,965.8 984.0,962.3C985.9,958.8 987.9,955.3 989.9,951.8C991.8,948.3 993.8,944.8 995.8,941.3C997.8,937.8 999.7,934.3 1001.7,930.8C1003.7,927.3 1005.6,923.8 1007.6,920.3C1009.6,916.7 1011.5,913.2 1013.5,909.7C1015.5,906.2 1017.4,902.7 1019.4,899.2C1021.4,895.7 1023.3,892.2 1025.3,888.7C1027.3,885.2 1029.2,881.7 1031.2,878.2C1033.2,874.7 1035.1,871.2 1037.1,867.7C1039.1,864.2 1041.0,860.7 1043.0,857.2C1044.9,853.7 1046.9,850.2 1048.9,846.6C1050.8,843.1 1052.8,839.6 1054.7,836.1C1056.7,832.6 1058.7,829.1 1060.6,825.6C1062.6,822.1 1064.5,818.6 1066.5,815.1C1068.4,811.6 1070.4,808.1 1072.3,804.5C1074.3,801.0 1076.3,797.5 1078.2,794.0C1080.2,790.5 1082.1,787.0 1084.1,783.5C1086.0,780.0 1088.0,776.4 1089.9,772.9C1091.9,769.4 1093.8,765.9 1095.8,762.4C1097.7,758.9 1099.7,755.4 1101.6,751.9C1103.6,748.4 1105.6,744.8 1107.5,741.4C1109.5,737.9 1111.5,734.4 1113.5,730.9C1115.5,727.4 1117.5,723.9 1119.6,720.5C1121.6,717.0 1123.6,713.5 1125.7,710.1C1127.8,706.7 1129.9,703.2 1132.0,699.8C1134.1,696.4 1136.3,693.0 1138.4,689.6C1140.6,686.2 1142.8,682.8 1144.9,679.5C1147.1,676.1 1149.3,672.7 1151.5,669.4C1153.8,666.0 1156.0,662.7 1158.2,659.3C1160.4,656.0 1162.6,652.6 1164.8,649.3C1167.1,645.9 1169.3,642.6 1171.5,639.2C1173.7,635.9 1175.9,632.5 1178.1,629.1C1180.3,625.8 1182.5,622.4 1184.7,619.0C1186.9,615.7 1189.1,612.3 1191.2,608.9C1193.4,605.6 1195.6,602.2 1197.8,598.8C1199.9,595.4 1202.1,592.0 1204.2,588.6C1206.4,585.2 1208.5,581.8 1210.6,578.4C1212.8,575.0 1214.9,571.6 1217.0,568.2C1219.1,564.8 1221.3,561.4 1223.4,558.0C1225.6,554.6 1227.8,551.2 1230.1,547.9C1232.3,544.6 1234.6,541.3 1237.0,538.1C1239.4,534.8 1241.8,531.6 1244.3,528.5C1246.8,525.3 1249.4,522.3 1252.0,519.2C1254.6,516.1 1257.3,513.1 1260.0,510.1C1262.6,507.1 1265.4,504.2 1268.1,501.3C1270.9,498.3 1273.6,495.4 1276.4,492.5C1279.2,489.7 1282.0,486.8 1284.9,483.9C1287.7,481.1 1290.5,478.2 1293.3,475.4C1296.2,472.5 1299.0,469.6 1301.8,466.8C1304.7,464.0 1307.5,461.1 1310.4,458.3C1313.2,455.5 1316.1,452.7 1319.0,449.9C1321.9,447.1 1324.8,444.3 1327.7,441.5C1330.6,438.7 1333.5,436.0 1336.5,433.3C1339.4,430.6 1342.4,427.9 1345.4,425.2C1348.4,422.5 1351.5,419.9 1354.5,417.3C1357.6,414.7 1360.7,412.1 1363.8,409.6C1366.9,407.1 1370.1,404.6 1373.3,402.1C1376.5,399.7 1379.7,397.3 1383.0,395.0C1386.2,392.6 1389.5,390.3 1392.9,388.1C1396.2,385.9 1399.6,383.7 1403.0,381.6C1406.5,379.5 1409.9,377.5 1413.5,375.6C1417.0,373.6 1420.5,371.7 1424.1,369.9C1427.7,368.1 1431.3,366.3 1434.9,364.6C1438.5,362.8 1442.2,361.2 1445.9,359.6C1449.5,357.9 1453.2,356.3 1456.9,354.8C1460.6,353.2 1464.4,351.7 1468.1,350.2C1471.8,348.7 1475.6,347.2 1479.3,345.8C1483.0,344.3 1486.8,342.8 1490.5,341.4C1494.3,339.9 1498.0,338.5 1501.8,337.1C1505.5,335.7 1509.3,334.3 1513.1,332.9C1516.8,331.5 1520.6,330.1 1524.4,328.7C1528.2,327.3 1531.9,325.9 1535.7,324.6C1539.5,323.2 1543.3,321.9 1547.1,320.5C1550.9,319.2 1554.7,317.9 1558.5,316.6C1562.3,315.3 1566.1,314.0 1569.9,312.7C1573.7,311.5 1577.5,310.2 1581.3,309.0C1585.2,307.8 1589.0,306.6 1592.9,305.4C1596.7,304.3 1600.6,303.2 1604.4,302.1C1608.3,301.0 1612.2,299.9 1616.1,298.9C1620.0,297.9 1623.9,296.9 1627.8,296.0C1631.7,295.1 1635.6,294.2 1639.5,293.4C1643.5,292.6 1647.4,291.9 1651.4,291.2C1655.3,290.4 1659.3,289.8 1663.3,289.2C1667.2,288.6 1671.2,288.0 1675.2,287.5C1679.2,287.0 1683.2,286.5 1687.2,286.1C1691.2,285.7 1695.2,285.3 1699.2,284.9C1703.2,284.5 1707.2,284.2 1711.2,283.9C1715.2,283.5 1719.2,283.3 1723.2,283.0C1727.2,282.7 1731.2,282.4 1735.2,282.2C1739.2,281.9 1743.2,281.7 1747.3,281.4C1751.3,281.2 1755.3,281.0 1759.3,280.7C1763.3,280.5 1767.3,280.3 1771.3,280.0C1775.3,279.8 1779.3,279.5 1783.4,279.2C1787.4,279.0 1791.4,278.7 1795.4,278.4C1799.4,278.1 1803.4,277.7 1807.4,277.4C1811.4,277.0 1815.4,276.6 1819.4,276.2C1823.4,275.8 1827.4,275.4 1831.4,274.9C1835.4,274.5 1839.4,274.0 1843.3,273.5C1847.3,272.9 1851.3,272.4 1855.3,271.8C1859.2,271.2 1863.2,270.6 1867.2,269.9C1871.1,269.3 1875.1,268.6 1879.1,267.8C1883.0,267.1 1886.9,266.3 1890.9,265.5C1894.8,264.7 1898.7,263.9 1902.7,263.0C1906.6,262.1 1910.5,261.1 1914.4,260.2C1918.3,259.2 1922.2,258.2 1926.1,257.2C1929.9,256.1 1933.8,255.1 1937.7,254.0C1941.6,252.9 1945.4,251.8 1949.3,250.6C1953.1,249.5 1957.0,248.3 1960.8,247.2C1964.7,246.0 1968.5,244.8 1972.3,243.6C1976.2,242.4 1980.0,241.2 1983.8,240.0C1987.7,238.8 1991.5,237.6 1995.3,236.4C1999.2,235.2 2003.0,233.9 2006.8,232.7C2010.6,231.5 2014.5,230.3 2018.3,229.1C2022.2,227.9 2026.0,226.7 2029.8,225.6C2033.7,224.4 2037.5,223.2 2041.4,222.1C2045.2,221.0 2049.1,219.9 2053.0,218.7C2056.8,217.6 2060.7,216.5 2064.6,215.4C2068.4,214.3 2072.3,213.2 2076.1,212.1C2080.0,210.9 2083.8,209.8 2087.6,208.5C2091.5,207.3 2095.3,206.0 2099.1,204.7C2102.9,203.3 2106.6,201.9 2110.4,200.5C2114.1,199.0 2117.8,197.5 2121.5,196.0C2125.3,194.4 2128.9,192.8 2132.6,191.3C2136.3,189.7 2140.0,188.1 2143.7,186.5C2147.4,184.9 2151.1,183.3 2154.8,181.7C2158.4,180.1 2162.2,178.6 2165.8,176.8C2169.3,174.9 2172.8,172.9 2176.1,170.6C2179.4,168.3 2182.5,165.6 2185.4,162.9C2188.4,160.2 2191.1,157.3 2193.8,154.3C2196.5,151.3 2199.0,148.2 2201.5,145.0C2204.0,141.8 2206.3,138.6 2208.6,135.3C2211.0,132.1 2213.3,128.7 2215.7,125.5C2218.1,122.3 2220.7,119.2 2223.2,116.1" stroke="#3333ff"/>
<path d="M701.0,1500.0C703.0,1496.5 705.0,1493.1 707.0,1489.6C709.0,1486.1 711.0,1482.6 713.0,1479.2C714.9,1475.7 716.9,1472.2 718.9,1468.7C720.9,1465.2 722.8,1461.7 724.8,1458.3C726.8,1454.8 728.8,1451.3 730.7,1447.8C732.7,1444.3 734.6,1440.8 736.6,1437.3C738.6,1433.8 740.5,1430.4 742.5,1426.9C744.4,1423.4 746.4,1419.9 748.3,1416.4C750.3,1412.9 752.2,1409.4 754.2,1405.9C756.1,1402.4 758.1,1398.9 760.0,1395.4C762.0,1391.9 763.9,1388.4 765.8,1384.9C767.8,1381.4 769.7,1377.9 771.7,1374.4C773.6,1370.9 775.5,1367.4 777.5,1363.9C779.4,1360.4 781.3,1356.9 783.3,1353.4C785.2,1349.9 787.1,1346.3 789.1,1342.8C791.0,1339.3 792.9,1335.8 794.9,1332.3C796.8,1328.8 798.7,1325.3 800.7,1321.8C802.6,1318.3 804.5,1314.8 806.5,1311.3C808.4,1307.8 810.3,1304.3 812.3,1300.8C814.2,1297.3 816.1,1293.8 818.1,1290.3C820.0,1286.8 821.9,1283.3 823.9,1279.8C825.8,1276.3 827.8,1272.8 829.7,1269.3C831.6,1265.7 833.6,1262.2 835.5,1258.7C837.5,1255.2 839.4,1251.7 841.4,1248.3C843.3,1244.8 845.3,1241.3 847.2,1237.8C849.1,1234.3 851.1,1230.8 853.1,1227.3C855.0,1223.8 857.0,1220.3 858.9,1216.8C860.9,1213.3 862.8,1209.8 864.8,1206.3C866.7,1202.8 868.7,1199.3 870.7,1195.8C872.6,1192.3 874.6,1188.9 876.5,1185.4C878.5,1181.9 880.5,1178.4 882.4,1174.9C884.4,1171.4 886.4,1167.9 888.3,1164.4C890.3,1161.0 892.3,1157.5 894.2,1154.0C896.2,1150.5 898.2,1147.0 900.1,1143.5C902.1,1140.0 904.1,1136.6 906.0,1133.1C908.0,1129.6 910.0,1126.1 912.0,1122.6C913.9,1119.1 915.9,1115.6 917.9,1112.2C919.8,1108.7 921.8,1105.2 923.8,1101.7C925.8,1098.2 927.7,1094.7 929.7,1091.3C931.7,1087.8 933.6,1084.3 935.6,1080.8C937.6,1077.3 939.6,1073.8 941.5,1070.4C943.5,1066.9 945.5,1063.4 947.5,1059.9C949.4,1056.4 951.4,1052.9 953.4,1049.5C955.3,1046.0 957.3,1042.5 959.3,1039.0C961.3,1035.5 963.2,1032.0 965.2,1028.6C967.2,1025.1 969.1,1021.6 971.1,1018.1C973.1,1014.6 975.0,1011.1 977.0,1007.7C979.0,1004.2 981.0,1000.7 982.9,997.2C984.9,993.7 986.8,990.2 988.8,986.7C990.8,983.2 992.7,979.8 994.7,976.3C996.7,972.8 998.6,969.3 1000.6,965.8C1002.6,962.3 1004.5,958.8 1006.5,955.3C1008.4,951.8 1010.4,948.3 1012.3,944.8C1014.3,941.4 1016.3,937.9 1018.2,934.4C1020.2,930.9 1022.1,927.4 1024.1,923.9C1026.0,920.4 1028.0,916.9 1029.9,913.4C1031.9,909.9 1033.8,906.4 1035.7,902.9C1037.7,899.4 1039.6,895.9 1041.6,892.4C1043.5,888.9 1045.5,885.4 1047.4,881.9C1049.4,878.4 1051.3,874.9 1053.3,871.4C1055.2,867.9 1057.2,864.4 1059.1,860.9C1061.1,857.5 1063.1,854.0 1065.0,850.5C1067.0,847.0 1068.9,843.5 1070.9,840.0C1072.9,836.5 1074.8,833.0 1076.8,829.6C1078.8,826.1 1080.8,822.6 1082.8,819.1C1084.7,815.6 1086.7,812.2 1088.7,808.7C1090.7,805.2 1092.7,801.8 1094.7,798.3C1096.7,794.8 1098.8,791.4 1100.8,787.9C1102.8,784.5 1104.8,781.0 1106.9,777.6C1108.9,774.1 1110.9,770.7 1113.0,767.2C1115.0,763.8 1117.1,760.4 1119.1,756.9C1121.2,753.5 1123.3,750.1 1125.4,746.7C1127.5,743.2 1129.5,739.8 1131.7,736.4C1133.8,733.0 1135.9,729.6 1138.0,726.2C1140.1,722.8 1142.2,719.4 1144.4,716.1C1146.5,712.7 1148.7,709.3 1150.9,705.9C1153.0,702.6 1155.2,699.2 1157.4,695.9C1159.6,692.5 1161.8,689.2 1164.0,685.8C1166.2,682.5 1168.4,679.2 1170.7,675.9C1172.9,672.5 1175.2,669.2 1177.4,665.9C1179.7,662.6 1182.0,659.3 1184.3,656.1C1186.6,652.8 1188.9,649.5 1191.2,646.3C1193.5,643.0 1195.9,639.7 1198.2,636.5C1200.6,633.3 1203.0,630.0 1205.3,626.8C1207.7,623.6 1210.1,620.4 1212.5,617.2C1215.0,614.0 1217.4,610.8 1219.8,607.7C1222.3,604.5 1224.8,601.4 1227.3,598.3C1229.8,595.1 1232.3,592.0 1234.9,589.0C1237.5,585.9 1240.1,582.9 1242.8,580.0C1245.5,577.0 1248.3,574.1 1251.1,571.2C1253.9,568.4 1256.8,565.6 1259.7,562.9C1262.6,560.1 1265.6,557.5 1268.7,554.9C1271.7,552.3 1274.8,549.7 1277.9,547.2C1281.0,544.7 1284.2,542.2 1287.3,539.8C1290.5,537.3 1293.7,534.9 1296.9,532.5C1300.1,530.1 1303.3,527.8 1306.6,525.4C1309.9,523.1 1313.2,520.8 1316.5,518.6C1319.8,516.4 1323.2,514.2 1326.6,512.1C1330.0,510.1 1333.5,508.0 1337.0,506.1C1340.5,504.1 1344.0,502.3 1347.6,500.5C1351.2,498.8 1354.9,497.1 1358.6,495.6C1362.3,494.1 1366.0,492.7 1369.8,491.4C1373.6,490.1 1377.4,488.9 1381.3,487.9C1385.1,486.8 1389.0,485.9 1393.0,485.1C1396.9,484.2 1400.8,483.5 1404.7,482.8C1408.7,482.1 1412.7,481.5 1416.6,481.0C1420.6,480.4 1424.6,480.0 1428.5,479.5C1432.5,479.1 1436.5,478.7 1440.5,478.4C1444.5,478.0 1448.5,477.7 1452.5,477.4C1456.5,477.1 1460.4,476.8 1464.4,476.5C1468.4,476.2 1472.4,475.9 1476.4,475.6C1480.4,475.3 1484.4,474.9 1488.4,474.6C1492.4,474.3 1496.4,473.9 1500.4,473.6C1504.3,473.3 1508.3,472.9 1512.3,472.6C1516.3,472.3 1520.3,472.0 1524.3,471.6C1528.3,471.3 1532.3,471.0 1536.3,470.7C1540.3,470.4 1544.2,470.1 1548.2,469.9C1552.2,469.6 1556.2,469.3 1560.2,469.1C1564.2,468.9 1568.2,468.7 1572.2,468.5C1576.2,468.3 1580.2,468.1 1584.2,468.0C1588.2,467.9 1592.2,467.8 1596.2,467.7C1600.2,467.7 1604.2,467.6 1608.2,467.7C1612.2,467.7 1616.2,467.8 1620.2,468.1C1624.2,468.3 1628.2,468.7 1632.2,469.2C1636.1,469.8 1640.1,470.5 1644.0,471.5C1647.9,472.4 1651.7,473.6 1655.5,474.9C1659.2,476.2 1663.0,477.8 1666.6,479.5C1670.2,481.2 1673.7,483.1 1677.2,485.1C1680.6,487.2 1683.9,489.4 1687.1,491.8C1690.3,494.2 1693.4,496.8 1696.4,499.5C1699.3,502.2 1702.1,505.1 1704.8,508.0C1707.5,511.0 1710.1,514.1 1712.5,517.2C1715.0,520.4 1717.3,523.6 1719.6,526.9C1721.9,530.2 1724.0,533.6 1726.2,537.0C1728.3,540.4 1730.4,543.8 1732.5,547.2C1734.7,550.6 1736.8,553.9 1739.1,557.2C1741.4,560.5 1743.8,563.7 1746.2,566.9C1748.7,570.0 1751.3,573.1 1753.7,576.3C1756.1,579.5 1758.4,582.8 1760.7,586.0C1763.0,589.3 1765.1,592.8 1767.5,596.0C1769.9,599.1 1772.2,602.6 1775.2,605.1C1778.2,607.6 1781.9,610.9 1785.4,611.1C1788.8,611.4 1793.0,608.8 1796.1,606.7C1799.3,604.4 1801.7,600.9 1804.3,597.8C1806.8,594.8 1809.1,591.4 1811.4,588.2C1813.7,584.9 1815.9,581.5 1818.1,578.2C1820.4,574.9 1822.7,571.6 1824.9,568.4C1827.2,565.1 1829.5,561.8 1831.8,558.5C1834.1,555.2 1836.4,551.9 1838.6,548.6C1840.9,545.3 1843.1,542.0 1845.4,538.7C1847.6,535.3 1849.8,532.0 1852.0,528.7C1854.2,525.3 1856.4,521.9 1858.5,518.6C1860.7,515.2 1862.8,511.8 1865.0,508.5C1867.1,505.1 1869.3,501.7 1871.4,498.3C1873.6,495.0 1875.8,491.6 1878.0,488.3C1880.3,485.0 1882.6,481.7 1885.0,478.5C1887.4,475.3 1889.8,472.1 1892.4,469.1C1895.0,466.0 1897.7,463.1 1900.5,460.2C1903.2,457.3 1906.1,454.4 1909.0,451.7C1911.9,449.0 1914.9,446.4 1918.0,443.8C1921.1,441.3 1924.3,438.8 1927.6,436.5C1930.8,434.1 1934.1,431.9 1937.5,429.8C1940.9,427.7 1944.4,425.7 1947.9,423.8C1951.4,421.8 1955.0,420.0 1958.6,418.3C1962.2,416.6 1965.9,415.0 1969.5,413.4C1973.2,411.8 1976.9,410.3 1980.6,408.8C1984.4,407.3 1988.1,405.9 1991.9,404.5C1995.6,403.1 1999.4,401.7 2003.1,400.3C2006.9,398.9 2010.6,397.6 2014.4,396.2C2018.1,394.8 2021.9,393.4 2025.6,391.9C2029.4,390.5 2033.1,389.0 2036.8,387.5C2040.5,386.0 2044.2,384.4 2047.8,382.8C2051.5,381.2 2055.1,379.5 2058.7,377.7C2062.3,376.0 2065.9,374.1 2069.4,372.2C2072.9,370.3 2076.4,368.4 2079.9,366.3C2083.3,364.3 2086.7,362.2 2090.2,360.2C2093.6,358.1 2097.0,355.9 2100.4,353.8C2103.8,351.7 2107.1,349.6 2110.5,347.4C2113.9,345.3 2117.3,343.2 2120.7,341.0C2124.1,338.9 2127.4,336.7 2130.7,334.5C2134.1,332.2 2137.4,329.9 2140.6,327.6C2143.8,325.2 2147.0,322.7 2150.0,320.2C2153.1,317.6 2156.1,314.9 2159.0,312.2C2161.8,309.4 2164.6,306.5 2167.2,303.5C2169.9,300.4 2172.4,297.3 2174.7,294.0C2177.0,290.8 2179.2,287.4 2181.2,283.9C2183.2,280.5 2185.0,276.9 2186.7,273.3C2188.5,269.7 2190.0,266.0 2191.5,262.3C2193.1,258.6 2194.5,254.8 2195.9,251.1C2197.3,247.4 2198.7,243.6 2200.0,239.8C2201.4,236.1 2202.7,232.3 2204.1,228.5C2205.4,224.7 2206.7,221.0 2208.0,217.2C2209.3,213.4 2210.6,209.6 2211.9,205.8C2213.2,202.0 2214.5,198.2 2215.8,194.4C2217.1,190.7 2218.4,186.9 2219.6,183.1C2220.9,179.3 2222.2,175.5 2223.5,171.7" stroke="#3333ff"/>
</g>
<g class="tick">
<text transform="translate(445.0,1499.4) scale(0.9850,1.0580)" text-anchor="end">1.E-05</text>
<text transform="translate(445.0,1297.2) scale(0.9850,1.0580)" text-anchor="end">1.E-04</text>
<text transform="translate(445.0,1095.0) scale(0.9850,1.0580)" text-anchor="end">1.E-03</text>
<text transform="translate(445.0,892.8) scale(0.9850,1.0580)" text-anchor="end">1.E-02</text>
<text transform="translate(445.0,690.6) scale(0.9850,1.0580)" text-anchor="end">1.E-01</text>
<text transform="translate(445.0,488.4) scale(0.9850,1.0580)" text-anchor="end">1.E+00</text>
<text transform="translate(445.0,286.2) scale(0.9850,1.0580)" text-anchor="end">1.E+01</text>
<text transform="translate(445.0,84.0) scale(0.9850,1.0580)" text-anchor="end">1.E+02</text>
<text transform="translate(517.3,1596.9) scale(0.9850,1.0580)" text-anchor="middle">1.E-06</text>
<text transform="translate(856.3,1596.9) scale(0.9850,1.0580)" text-anchor="middle">1.E-03</text>
<text transform="translate(1195.3,1596.9) scale(0.9850,1.0580)" text-anchor="middle">1.E+00</text>
<text transform="translate(1534.3,1596.9) scale(0.9850,1.0580)" text-anchor="middle">1.E+03</text>
<text transform="translate(1873.3,1596.9) scale(0.9850,1.0580)" text-anchor="middle">1.E+06</text>
<text transform="translate(2212.3,1596.9) scale(0.9850,1.0580)" text-anchor="middle">1.E+09</text>
</g>
<g>
<rect x="1687.9" y="754.8" width="175.4" height="15.2" rx="4.2" ry="4.2" fill="#ff0000"/>
<text class="leg" transform="translate(1872.3,788.0) scale(1,1.04)">CD=0.8</text>
<rect x="1687.9" y="852.8" width="175.4" height="15.2" rx="4.2" ry="4.2" fill="#00b050"/>
<text class="leg" transform="translate(1872.3,885.9) scale(1,1.04)">CD=2</text>
<rect x="1687.9" y="950.7" width="175.4" height="15.2" rx="4.2" ry="4.2" fill="#3333ff"/>
<text class="leg" transform="translate(1872.3,983.7) scale(1,1.04)">CD=4</text>
</g>
<g class="ttl">
<text x="1422.3" y="1694.2" text-anchor="middle">Dimensionless time(t<tspan class="sub" dy="19.5">D</tspan><tspan dy="-19.5">)</tspan></text>
<text transform="translate(75,748) rotate(-90)" text-anchor="middle">Dimensionless pressure drop and</text>
<text transform="translate(162.1,745.6) rotate(-90)" text-anchor="middle" word-spacing="1">derivative of pressure drop(p<tspan class="sub" dy="17">D</tspan><tspan dy="-17"> &amp; dp</tspan><tspan class="sub" dy="17">D</tspan><tspan dy="-17">)</tspan></text>
</g>
</svg>
</body>
</html>
